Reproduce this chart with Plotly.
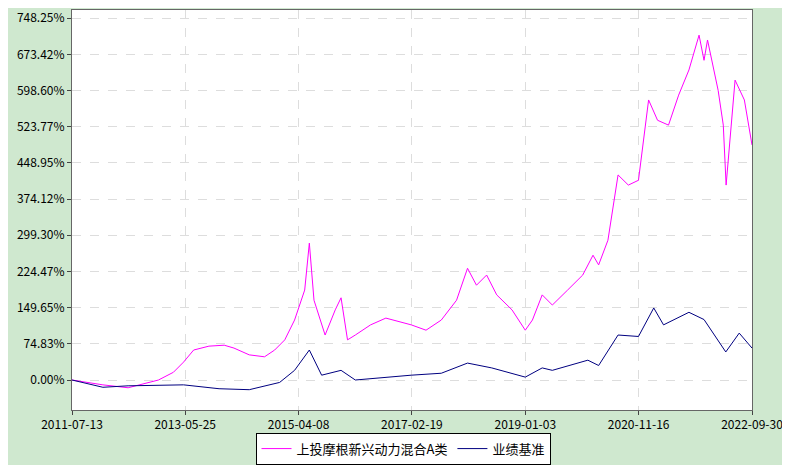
import plotly.graph_objects as go

fund_dates = ["2011-07-13","2012-01-15","2012-06-15","2012-12-15","2013-03-15","2013-05-15","2013-07-15","2013-10-15","2014-01-15","2014-03-15","2014-06-15","2014-09-15","2014-11-15","2015-01-15","2015-03-15","2015-05-15","2015-06-12","2015-07-10","2015-09-15","2015-11-15","2015-12-20","2016-01-28","2016-03-15","2016-06-15","2016-09-15","2016-12-15","2017-02-15","2017-05-15","2017-08-15","2017-11-15","2018-01-20","2018-03-15","2018-05-15","2018-07-15","2018-10-15","2019-01-03","2019-02-15","2019-04-15","2019-06-15","2019-09-15","2019-12-15","2020-02-15","2020-03-20","2020-05-15","2020-07-15","2020-09-15","2020-11-15","2021-01-15","2021-03-10","2021-05-15","2021-07-15","2021-09-15","2021-11-15","2021-12-15","2022-01-05","2022-03-10","2022-04-10","2022-04-27","2022-06-20","2022-08-15","2022-09-30"]
fund_vals = [0,-10,-16,0,16,37,62,70,72,66,52,48,62,83,124,186,283,165,93,145,170,83,93,114,128,120,114,103,124,165,231,196,217,176,145,103,124,176,155,186,217,258,238,289,424,403,413,579,537,527,589,641,713,661,703,599,527,403,620,579,486]

bench_dates = ["2011-07-13","2012-01-15","2012-06-15","2013-05-15","2013-12-15","2014-06-15","2014-12-15","2015-03-15","2015-06-12","2015-08-25","2015-12-20","2016-03-15","2017-02-15","2017-08-15","2018-01-20","2018-06-15","2019-01-03","2019-04-15","2019-06-15","2020-01-15","2020-03-20","2020-07-15","2020-11-15","2021-02-15","2021-04-15","2021-09-15","2021-12-15","2022-04-25","2022-07-15","2022-09-30"]
bench_vals = [0,-15,-12,-10,-18,-20,-5,20,62,10,20,0,10,14,35,25,6,25,20,41,30,93,90,149,114,140,125,58,97,66]

tick_vals = ["2011-07-13","2013-05-25","2015-04-08","2017-02-19","2019-01-03","2020-11-16","2022-09-30"]
y_ticks = [0,74.83,149.65,224.47,299.30,374.12,448.95,523.77,598.60,673.42,748.25]

fig = go.Figure()
fig.add_trace(go.Scatter(x=fund_dates, y=fund_vals, mode="lines", name="上投摩根新兴动力混合A类",
                         line=dict(color="#ff00ff", width=1)))
fig.add_trace(go.Scatter(x=bench_dates, y=bench_vals, mode="lines", name="业绩基准",
                         line=dict(color="#000080", width=1)))
fig.update_layout(
    width=790, height=465, margin=dict(l=64, r=46, t=2, b=63),
    paper_bgcolor="#cfe8cf", plot_bgcolor="white",
    font=dict(family="Noto Sans CJK SC", size=12, color="#000"),
    showlegend=True,
    legend=dict(orientation="h", x=0.5, xanchor="center", xref="container", yref="container",
                y=0.018, yanchor="bottom", itemwidth=30,
                bordercolor="#000", borderwidth=1, bgcolor="white", font=dict(size=13)),
    xaxis=dict(type="date", range=["2011-07-13","2022-09-30"], tickvals=tick_vals, ticktext=tick_vals,
               automargin=False,
               showgrid=True, gridcolor="#ddd", griddash="dash", showline=True, linecolor="#666",
               mirror=True, ticks="outside", ticklen=4),
    yaxis=dict(range=[-62, 765], tickvals=y_ticks, ticktext=[f"{v:.2f}%" for v in y_ticks],
               automargin=False,
               showgrid=True, gridcolor="#ddd", griddash="dash", showline=True, linecolor="#666",
               mirror=True, zeroline=False, ticks="outside", ticklen=4),
)
fig.write_html("out.html")
